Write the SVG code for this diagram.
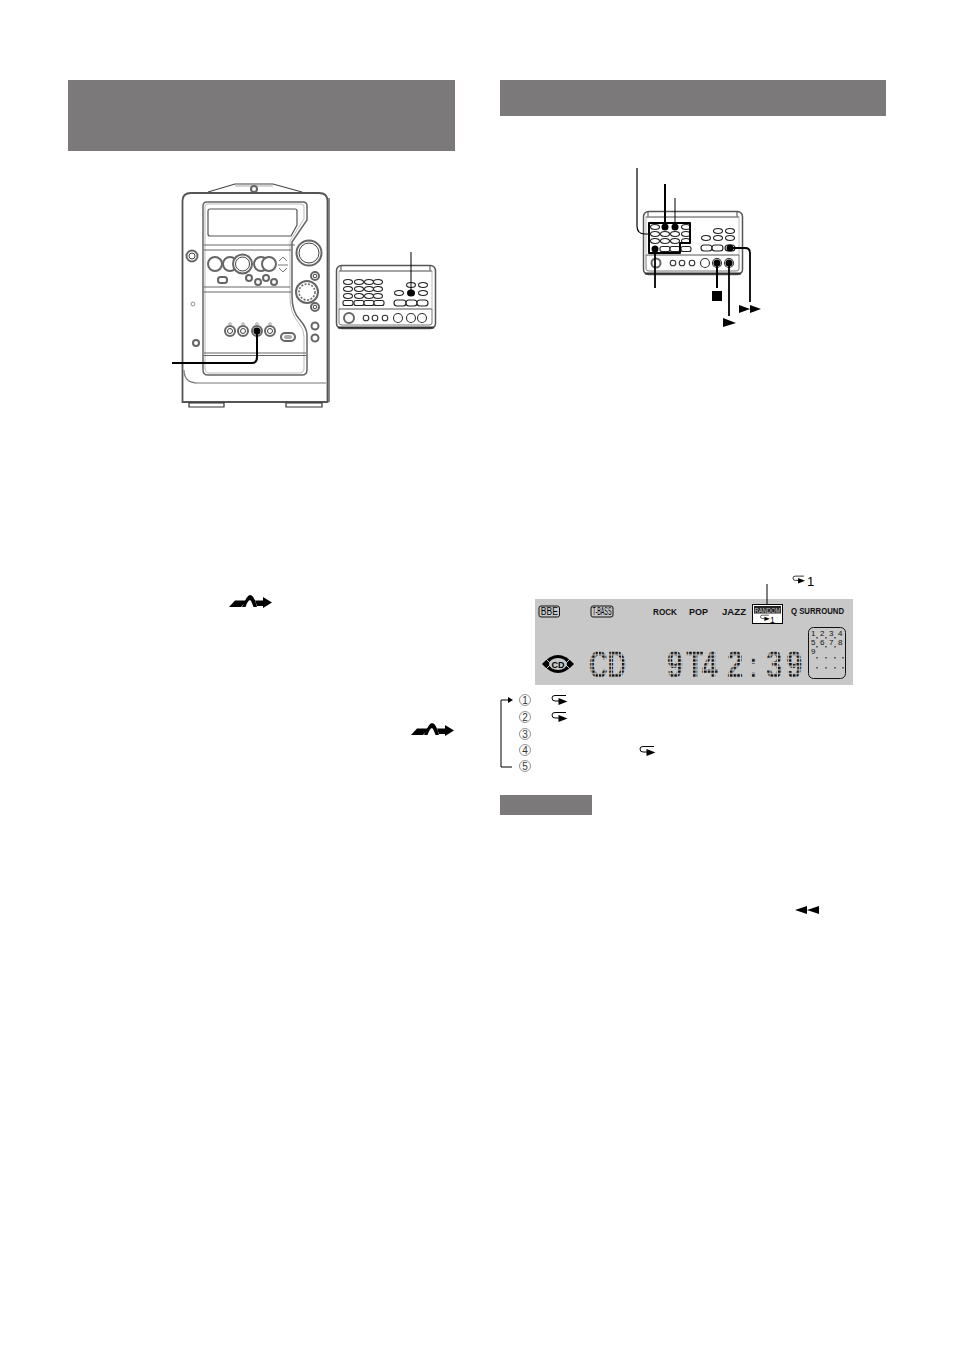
<svg xmlns="http://www.w3.org/2000/svg" xmlns:xlink="http://www.w3.org/1999/xlink" width="954" height="1349" viewBox="0 0 954 1349">
<style>
.hdr{fill:#7b797a}
.o{fill:#fff;stroke:#333;stroke-width:1.100}
.g{fill:#fff;stroke:#666;stroke-width:2}
.n{fill:none;stroke:#444;stroke-width:1}
.p{fill:#fff;stroke:#222;stroke-width:1.100}
.b{fill:#000}
.c{fill:none;stroke:#000;stroke-linecap:butt;stroke-linejoin:round}
.lb{font-family:"Liberation Sans",Arial,sans-serif;font-weight:bold;font-size:9px;fill:#111}
.num{font-family:"Liberation Sans",Arial,sans-serif;font-size:8px;fill:#111}
.cr{fill:#fff;stroke:#888;stroke-width:0.900}
.cn{font-family:"Liberation Sans",Arial,sans-serif;font-size:10px;fill:#333;text-anchor:middle}
.dot{font-family:"Liberation Sans",Arial,sans-serif;font-weight:bold;font-size:39px;fill:url(#dots)}
.dot2{font-family:"Liberation Sans",Arial,sans-serif;font-weight:bold;font-size:39px;fill:url(#dots2)}
</style>
<defs>
<pattern id="dots" x="0" y="0" width="5" height="3.750" patternUnits="userSpaceOnUse"><rect width="3.500" height="2.500" fill="#111"/></pattern>
<pattern id="dots2" x="0" y="0" width="5" height="3.750" patternUnits="userSpaceOnUse"><rect width="3.500" height="2.500" fill="#111"/></pattern>
<g id="rep"><path d="M566 695.500H555Q552 695.500 552 698Q552 701 555 701H559" fill="none" stroke="#000" stroke-width="1"/><path d="M558.500 698L567.500 701.500L558.500 705Z" fill="#000"/></g>
<g id="bend"><path d="M229 607L235 600.500H247L241 607Z" fill="#000"/><path d="M242 607Q247 595 250 595Q254 595 257 607L253.500 607Q251 600 250 600Q248 600 245.500 607Z" fill="#000"/><path d="M255 600.500H263V597L272 602.500L263 608V606H257Z" fill="#000"/></g>
<g id="rem">
<rect x="0.500" y="0.500" width="99" height="63" rx="5" fill="#fff" stroke="#555" stroke-width="1.500"/>
<path d="M3 6H96M5 1V6M94 1V6" class="n"/>
<rect x="3" y="6" width="93" height="38" fill="none" stroke="#aaa" stroke-width="0.800"/>
<path d="M3 44H96V58Q96 60 93 60H6Q3 60 3 58Z" fill="none" stroke="#777" stroke-width="1"/>
<path d="M2 62.500H98" stroke="#333" stroke-width="2"/>
</g>
<ellipse id="pill" rx="4.500" ry="2.500" class="p"/>
<rect id="sq" x="-5" y="-2.500" width="10" height="5" rx="2" class="p"/>
</defs>

<rect id="hdr1" class="hdr" x="68" y="80" width="387" height="71"/>
<rect id="hdr2" class="hdr" x="500" y="80" width="386" height="36"/>
<rect id="note" class="hdr" x="500" y="795" width="92" height="20"/>

<g id="unit">
<path d="M208 192L235 184H273L302 192" fill="#fff" stroke="#444" stroke-width="1.200"/>
<path d="M235 186H273" stroke="#aaa" stroke-width="1"/>
<circle cx="254" cy="189" r="3" class="g" stroke-width="1"/>
<path d="M182.500 380V201Q182.500 193 191 193H319Q327.500 193 327.500 201V402H182.500Z" fill="#fff" stroke="#555" stroke-width="1.800"/>
<path d="M329 198V402" stroke="#666" stroke-width="1.500"/>
<path d="M184 370Q184 383 198 383H326" fill="none" stroke="#777" stroke-width="1.200"/>
<path d="M189 403H224V407H189ZM286 403H322V407H286Z" fill="#fff" stroke="#333" stroke-width="1.200"/>
<path d="M203 206Q203 202 207 202H303Q307 202 307 206V220L292 242V296Q292 312 300 320Q307 328 307 335V370Q307 375 302 375H208Q203 375 203 370Z" fill="#fff" stroke="#666" stroke-width="1.500"/>
<path d="M205 206Q205 204 208 204H301Q304 204 304 207V219L290 241V297Q290 313 298 322Q304 329 304 336V368Q304 373 300 373H209Q205 373 205 368Z" fill="none" stroke="#bbb" stroke-width="1"/>
<path d="M208 211Q208 209 210 209H295Q297 209 297 211V225L291 236H210Q208 236 208 234Z" fill="#fff" stroke="#555" stroke-width="1.200"/>
<path d="M204 245H295M204 250H291M204 287H290M204 292H291M204 353H306M204 355.500H306" stroke="#666" stroke-width="1.100"/>
<circle cx="309" cy="253" r="12.500" class="g"/><circle cx="309" cy="253" r="10" class="n"/>
<circle cx="192" cy="256" r="5.500" class="g"/><circle cx="192" cy="256" r="3" class="n"/>
<circle cx="215" cy="264" r="7" class="g"/><circle cx="230" cy="264" r="7" class="g"/><circle cx="242.500" cy="264" r="9.500" class="g"/><circle cx="242.500" cy="264" r="7" class="n"/>
<circle cx="261" cy="264" r="7" class="g"/><circle cx="269" cy="264" r="7" class="g"/>
<path d="M279 261L283 257L287 261M279 268L283 272L287 268M278 265H288" fill="none" stroke="#777" stroke-width="1"/>
<rect x="218" y="277" width="9" height="6" rx="2.500" class="g"/>
<circle cx="249" cy="278" r="3" class="g"/><circle cx="258" cy="282" r="3" class="g"/><circle cx="266" cy="278" r="3" class="g"/><circle cx="274" cy="282" r="3" class="g"/>
<circle cx="315" cy="276" r="4" class="g"/><circle cx="315" cy="276" r="1.800" class="n"/>
<circle cx="307" cy="292" r="11" class="g"/><circle cx="307" cy="292" r="8" fill="none" stroke="#666" stroke-width="1.500" stroke-dasharray="2 1.500"/>
<circle cx="315" cy="307" r="4" class="g"/><circle cx="315" cy="307" r="1.800" class="n"/>
<circle cx="315" cy="326" r="3.500" class="g"/><circle cx="315" cy="338" r="3.500" class="g"/>
<circle cx="193" cy="304" r="2" fill="#fff" stroke="#777" stroke-width="0.800"/>
<circle cx="196" cy="343" r="3" class="g" stroke-width="1"/>
<circle cx="230" cy="331" r="5" class="g"/><circle cx="230" cy="331" r="2.500" class="n"/>
<circle cx="243" cy="331" r="5" class="g"/><circle cx="243" cy="331" r="2.500" class="n"/>
<circle cx="257" cy="331" r="5" class="g"/><circle cx="257" cy="331" r="3.500" class="b"/>
<circle cx="270" cy="331" r="5" class="g"/><circle cx="270" cy="331" r="2.500" class="n"/>
<path d="M230 322.500l1.500 1.500l-1.500 1.500l-1.500-1.500ZM243 322.500l1.500 1.500l-1.500 1.500l-1.500-1.500ZM257 322.500l1.500 1.500l-1.500 1.500l-1.500-1.500ZM270 322.500l1.500 1.500l-1.500 1.500l-1.500-1.500Z" fill="#fff" stroke="#666" stroke-width="0.700"/>
<rect x="281" y="333" width="14" height="8" rx="4" class="g"/><rect x="284" y="335" width="8" height="4" rx="2" fill="#aaa"/>
</g>

<g id="remote1">
<use xlink:href="#rem" transform="translate(336 265)"/>
<use xlink:href="#pill" x="348" y="282"/><use xlink:href="#pill" x="359" y="282"/><use xlink:href="#pill" x="369" y="282"/><use xlink:href="#pill" x="378" y="282"/>
<use xlink:href="#pill" x="348" y="289"/><use xlink:href="#pill" x="359" y="289"/><use xlink:href="#pill" x="369" y="289"/><use xlink:href="#pill" x="378" y="289"/>
<use xlink:href="#pill" x="348" y="296"/><use xlink:href="#pill" x="359" y="296"/><use xlink:href="#pill" x="369" y="296"/><use xlink:href="#pill" x="378" y="296"/>
<use xlink:href="#sq" x="348" y="303"/><use xlink:href="#sq" x="359" y="303"/><use xlink:href="#sq" x="369" y="303"/><use xlink:href="#sq" x="379" y="303"/>
<use xlink:href="#pill" x="411" y="285"/><use xlink:href="#pill" x="423" y="285"/>
<use xlink:href="#pill" x="399" y="293"/><use xlink:href="#pill" x="423" y="293"/>
<ellipse cx="411" cy="293" rx="4" ry="3.500" class="b"/>
<rect x="394" y="300" width="12" height="6" rx="3" class="p"/><rect x="406" y="300" width="11" height="6" rx="3" class="p"/><rect x="417" y="300" width="11" height="6" rx="3" class="p"/>
<circle cx="349" cy="318" r="5" class="g"/><circle cx="366" cy="318" r="2.800" class="o"/><circle cx="375" cy="318" r="2.800" class="o"/><circle cx="385" cy="318" r="2.800" class="o"/>
<circle cx="398" cy="318" r="4.500" class="o"/><circle cx="411" cy="318" r="4.500" class="o"/><circle cx="422" cy="318" r="4.500" class="o"/>
</g>

<g id="remote2">
<use xlink:href="#rem" transform="translate(643 211)"/>
<use xlink:href="#pill" x="655" y="227"/><use xlink:href="#pill" x="686" y="227"/>
<use xlink:href="#pill" x="655" y="234"/><use xlink:href="#pill" x="665" y="234"/><use xlink:href="#pill" x="675" y="234"/><use xlink:href="#pill" x="686" y="234"/>
<use xlink:href="#pill" x="655" y="241"/><use xlink:href="#pill" x="665" y="241"/><use xlink:href="#pill" x="675" y="241"/><use xlink:href="#pill" x="686" y="241"/>
<use xlink:href="#sq" x="665" y="249"/><use xlink:href="#sq" x="675" y="249"/><use xlink:href="#sq" x="686" y="249"/>
<use xlink:href="#pill" x="718" y="231"/><use xlink:href="#pill" x="730" y="231"/>
<use xlink:href="#pill" x="706" y="238"/><use xlink:href="#pill" x="718" y="238"/><use xlink:href="#pill" x="730" y="238"/>
<rect x="701" y="245" width="11" height="6" rx="3" class="p"/><rect x="712" y="245" width="11" height="6" rx="3" class="p"/>
<circle cx="656" cy="263" r="4.500" class="g"/><circle cx="673" cy="263" r="2.800" class="o"/><circle cx="682" cy="263" r="2.800" class="o"/><circle cx="692" cy="263" r="2.800" class="o"/>
<circle cx="705" cy="263" r="4.500" class="o"/>
<circle cx="665" cy="227" r="3.500" class="b"/><circle cx="675" cy="227" r="3.500" class="b"/><circle cx="655" cy="249" r="3.500" class="b"/>
<circle cx="717" cy="263" r="4.500" class="o"/><circle cx="717" cy="263" r="3.500" class="b"/>
<circle cx="729" cy="263" r="4.500" class="o"/><circle cx="729" cy="263" r="3.500" class="b"/>
<rect x="725" y="245" width="10" height="6" rx="3" class="p"/><circle cx="730" cy="248" r="3.500" class="b"/>
</g>

<g id="display">
<rect x="535" y="599" width="318" height="86" fill="#c8c8c8"/>
<rect x="539" y="606" width="20.500" height="11" rx="2" fill="none" stroke="#111" stroke-width="1"/>
<text x="549.300" y="615" text-anchor="middle" font-family="Liberation Sans,sans-serif" font-size="10" fill="#000" textLength="17" lengthAdjust="spacingAndGlyphs">BBE</text>
<rect x="591" y="606" width="22" height="11" rx="2" fill="none" stroke="#111" stroke-width="1"/>
<text x="602" y="615" text-anchor="middle" font-family="Liberation Sans,sans-serif" font-size="10" fill="#000" textLength="19" lengthAdjust="spacingAndGlyphs">T-BASS</text>
<text class="lb" x="653" y="614.500" textLength="24" lengthAdjust="spacingAndGlyphs">ROCK</text>
<text class="lb" x="689" y="614.500" textLength="19" lengthAdjust="spacingAndGlyphs">POP</text>
<text class="lb" x="722" y="614.500" textLength="24" lengthAdjust="spacingAndGlyphs">JAZZ</text>
<text class="lb" x="791" y="614" font-size="8" textLength="53" lengthAdjust="spacingAndGlyphs">Q SURROUND</text>
<rect x="752.500" y="604.500" width="30" height="19" fill="#fff" stroke="#000" stroke-width="1"/>
<rect x="754" y="606" width="27" height="7.500" fill="#222"/>
<text x="767.500" y="612.700" text-anchor="middle" font-family="Liberation Sans,sans-serif" font-size="7.500" fill="#ccc" textLength="26" lengthAdjust="spacingAndGlyphs">RANDOM</text>
<use xlink:href="#rep" transform="translate(760.500 615.500) scale(0.6) translate(-552 -696)"/>
<text x="770" y="622.500" font-family="Liberation Sans,sans-serif" font-size="8.500" fill="#000">1</text>
<path d="M542 664Q550 655 558 655Q566 655 574 664Q566 673 558 673Q550 673 542 664Z" fill="#000"/>
<ellipse cx="558" cy="664" rx="9" ry="6" fill="#c8c8c8"/>
<path d="M545 658L551 664M545 670L551 664M571 658L565 664M571 670L565 664" stroke="#c8c8c8" stroke-width="1"/>
<text x="558" y="667.500" text-anchor="middle" font-family="Liberation Sans,sans-serif" font-weight="bold" font-size="9" fill="#000">CD</text>
<text class="dot" transform="translate(589 678) scale(0.66 1)" x="0">CD</text>
<text class="dot2" transform="translate(667 678) scale(0.74 1)" x="0 26 47 81 110 134 161">9T42:39</text>
<rect x="808.500" y="627.500" width="37" height="51" rx="5" fill="none" stroke="#111" stroke-width="1"/>
<text class="num" x="811" y="636">1</text><text class="num" x="820" y="636">2</text><text class="num" x="829" y="636">3</text><text class="num" x="838" y="636">4</text>
<text class="num" x="811" y="645">5</text><text class="num" x="820" y="645">6</text><text class="num" x="829" y="645">7</text><text class="num" x="838" y="645">8</text>
<text class="num" x="811" y="654">9</text>
<path d="M817 637v1.500M826 637v1.500M835 637v1.500M817 646v1.500M826 646v1.500M835 646v1.500M817 657v1.500M826 657v1.500M835 657v1.500M817 667v1.500M826 667v1.500M835 667v1.500M843 657v1.500M843 667v1.500" stroke="#222" stroke-width="1.200"/>
</g>

<g id="connectors">
<path class="c" stroke-width="2" d="M172 363H252Q257 363 257 357V331"/>
<path class="c" stroke-width="1" d="M411 252V293"/>
<path class="c" stroke-width="1.200" d="M637 168V226Q637 234 645 234H649"/>
<path class="c" stroke-width="2" d="M649 223H690V243H680V253H649Z"/>
<path class="c" stroke-width="2" d="M665 184V227"/>
<path class="c" stroke-width="1" d="M675 198V227"/>
<path class="c" stroke-width="1.800" d="M655 249V288"/>
<path class="c" stroke-width="2" d="M717 263V288"/>
<path class="c" stroke-width="1.800" d="M729 263V316"/>
<path class="c" stroke-width="1.800" d="M730 248H745Q750 248 750 253V302"/>
<path class="c" stroke-width="1" d="M767 584V604"/>
<path class="c" stroke-width="1" d="M512 767H501V700H508"/>
<path d="M508 697L513 700L508 703Z" class="b"/>
</g>

<g id="symbols">
<rect x="712" y="291" width="10" height="10" class="b"/>
<path d="M723 318L736 323L723 327Z" class="b"/>
<path d="M739 305L750 309L739 313ZM750 305L761 309L750 313Z" class="b"/>
<path d="M795 910L807 906V914ZM807 910L819 906V914Z" class="b"/>
<use xlink:href="#bend"/>
<use xlink:href="#bend" transform="translate(182 128)"/>
<use xlink:href="#rep" transform="translate(793 576.500) scale(0.78) translate(-552 -696)"/>
<text x="807" y="585.500" font-family="Liberation Sans,sans-serif" font-size="13" fill="#000">1</text>
<use xlink:href="#rep"/>
<use xlink:href="#rep" transform="translate(0 17)"/>
<use xlink:href="#rep" transform="translate(88 51)"/>
</g>

<g id="steps">
<circle class="cr" cx="525" cy="700" r="5.500"/><text class="cn" x="525" y="703.500">1</text>
<circle class="cr" cx="525" cy="717" r="5.500"/><text class="cn" x="525" y="720.500">2</text>
<circle class="cr" cx="525" cy="734" r="5.500"/><text class="cn" x="525" y="737.500">3</text>
<circle class="cr" cx="525" cy="750" r="5.500"/><text class="cn" x="525" y="753.500">4</text>
<circle class="cr" cx="525" cy="766" r="5.500"/><text class="cn" x="525" y="769.500">5</text>
</g>
</svg>
